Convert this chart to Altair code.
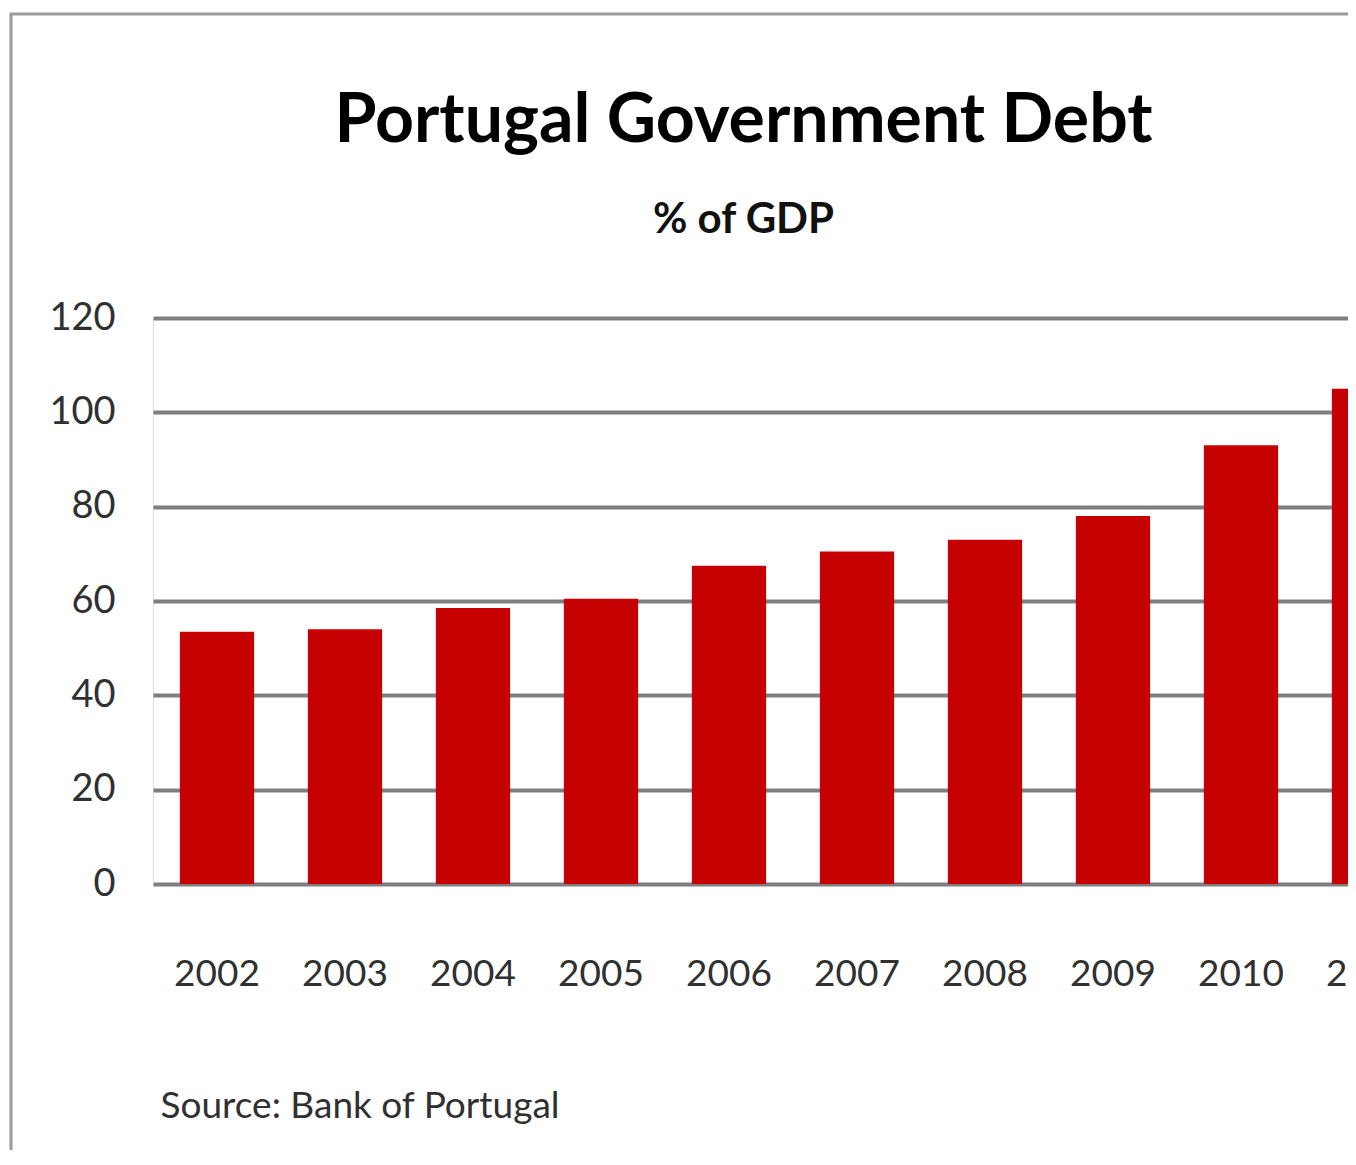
import altair as alt
import pandas as pd

# ---- data ----
years = ["2002", "2003", "2004", "2005", "2006", "2007", "2008", "2009", "2010", "2011"]
debt = [53.5, 54.0, 58.5, 60.5, 67.5, 70.5, 73.0, 78.0, 93.0, 105.0]
y_ticks = [0, 20, 40, 60, 80, 100, 120]
title_text = "Portugal Government Debt"
subtitle_text = "% of GDP"
source_text = "Source: Bank of Portugal"

df = pd.DataFrame({"year": years, "debt": debt})

PLOT_W = 1195
PLOT_H = 566
STEP = 128
FONT = "Lato"
TXT = "#303030"

bars = alt.Chart(df).mark_bar(color="#c60000", clip=True).encode(
    x=alt.X(
        "year:O",
        sort=years,
        scale=alt.Scale(range=[0, STEP * len(years)], paddingInner=0.42, paddingOuter=0.21),
        axis=alt.Axis(
            title=source_text,
            labelAngle=0,
            labelFontSize=37,
            labelFont=FONT,
            labelColor=TXT,
            labelPadding=72,
            ticks=False,
            domain=False,
            grid=False,
            titleAnchor="start",
            titleAlign="left",
            titleX=7,
            titleY=222,
            titleFontSize=37,
            titleFont=FONT,
            titleFontWeight="normal",
            titleBaseline="middle",
            titleColor=TXT,
        ),
    ),
    y=alt.Y(
        "debt:Q",
        scale=alt.Scale(domain=[0, 120], nice=False),
        axis=alt.Axis(
            values=y_ticks,
            title=None,
            labelFontSize=38,
            labelFont=FONT,
            labelColor=TXT,
            labelPadding=38,
            ticks=False,
            domain=False,
            grid=True,
            gridColor="#7f7f7f",
            gridWidth=4,
            gridOpacity=1,
        ),
    ),
)

frame = alt.Chart(pd.DataFrame({"f": [0]})).mark_rect(
    filled=False, stroke="#9a9a9a", strokeWidth=3, clip=False
).encode(
    x=alt.value(-142), x2=alt.value(PLOT_W + 100),
    y=alt.value(-304), y2=alt.value(PLOT_H + 400),
)

chart = alt.layer(frame, bars).properties(
    width=PLOT_W,
    height=PLOT_H,
    title=alt.TitleParams(
        text=title_text,
        subtitle=subtitle_text,
        font=FONT,
        fontSize=68,
        fontWeight="bold",
        color="#000000",
        subtitleFont=FONT,
        subtitleFontSize=42,
        subtitleFontWeight="bold",
        subtitleColor="#111111",
        subtitlePadding=44,
        anchor="middle",
        frame="group",
        dx=-7,
        offset=-228,
    ),
    autosize=alt.AutoSizeParams(type="none"),
    padding={"left": 145, "top": 310, "right": 0, "bottom": 266},
).configure_view(stroke=None).configure(background="white")

chart.save("out.html", embed_options={"renderer": "svg", "actions": False})
